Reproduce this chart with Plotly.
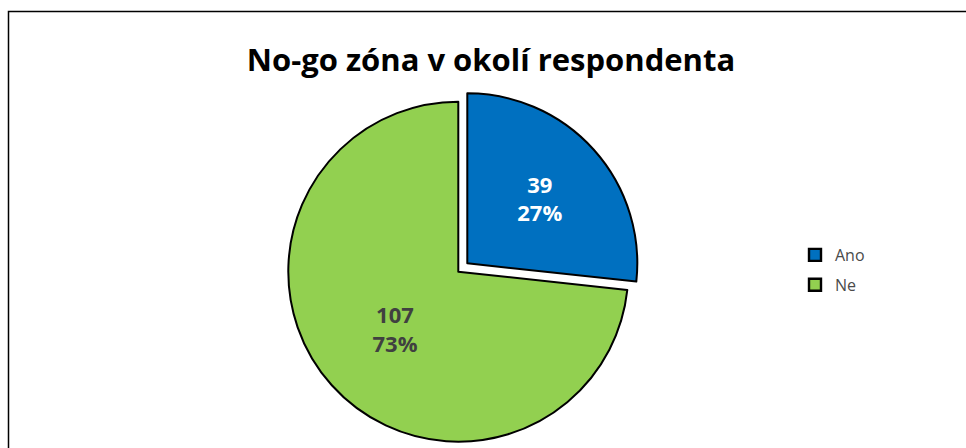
import plotly.graph_objects as go

# Data
labels = ["Ano", "Ne"]
values = [39, 107]
colors = ["#0070C0", "#92D050"]
text_colors = ["#FFFFFF", "#404040"]
title_text = "No-go zóna v okolí respondenta"

W, H = 966, 448
R = 170.0          # pie radius in px
cx, cy = 458.3, 271.7   # centre of the main pie (px from top-left)
shift = (9.0, -8.4)     # offset of exploded slice (px)

def dom(cxp, cyp, r):
    return dict(x=[(cxp - r) / W, (cxp + r) / W],
                y=[(H - cyp - r) / H, (H - cyp + r) / H])

TR = "rgba(0,0,0,0)"
FONT = "Open Sans"
tmpl = "%{value}<br>%{percent:.0%}"

fig = go.Figure()

# legend-only pies (tiny, hidden beneath the main pie)
for i, lab in enumerate(labels):
    fig.add_trace(go.Pie(
        labels=[lab], values=[values[i]], sort=False,
        marker=dict(colors=[colors[i]], line=dict(color="#000000", width=2.4)),
        textinfo="none", hoverinfo="skip",
        domain=dict(x=[0.41, 0.4102], y=[0.25, 0.2504]),
        legendgroup=lab, showlegend=True,
    ))

# main pie: "Ne" slice
fig.add_trace(go.Pie(
    labels=labels, values=values, sort=False, direction="clockwise", rotation=0,
    marker=dict(colors=[TR, colors[1]], line=dict(color="#000000", width=[0, 2])),
    texttemplate=["", tmpl], textposition="inside", insidetextorientation="horizontal",
    insidetextfont=dict(family=FONT, size=22, color=text_colors, weight="bold"),
    domain=dom(cx, cy, R), showlegend=False, hoverinfo="label+value+percent",
))

# exploded "Ano" slice
fig.add_trace(go.Pie(
    labels=labels, values=values, sort=False, direction="clockwise", rotation=0,
    marker=dict(colors=[colors[0], TR], line=dict(color="#000000", width=[2, 0])),
    texttemplate=[tmpl, ""], textposition="inside", insidetextorientation="horizontal",
    insidetextfont=dict(family=FONT, size=22, color=text_colors, weight="bold"),
    domain=dom(cx + shift[0], cy + shift[1], R), showlegend=False,
    hoverinfo="label+value+percent",
))

fig.update_layout(
    width=W, height=H,
    margin=dict(l=0, r=0, t=0, b=0),
    paper_bgcolor="white", plot_bgcolor="white",
    title=dict(text=title_text, x=491 / W, xanchor="center",
               y=1 - 60 / H, yanchor="middle", yref="container",
               font=dict(family=FONT, size=31, color="#000000", weight="bold")),
    legend=dict(x=795 / W, xanchor="left", y=1 - 238 / H, yanchor="top",
                font=dict(family=FONT, size=16, color="#4a4a4a"),
                tracegroupgap=6, bgcolor="rgba(0,0,0,0)"),
    shapes=[dict(type="rect", xref="paper", yref="paper",
                 x0=8.5 / W, y0=-0.2, x1=1.2, y1=1 - 11.5 / H,
                 line=dict(color="#000000", width=1.5), fillcolor="rgba(0,0,0,0)",
                 layer="above")],
)

fig.write_html("out.html", config={"displayModeBar": False},
               post_script="document.body.style.margin='0';document.body.style.overflow='hidden';")
